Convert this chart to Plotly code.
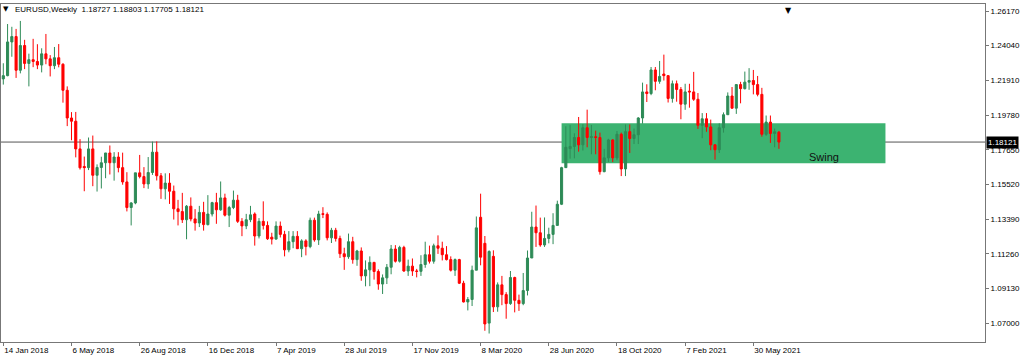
import plotly.graph_objects as go
import pandas as pd

# ---- data (weekly EURUSD candles) ----
first_week = "2018-01-14"
opens = [
    1.2200, 1.2220, 1.2427, 1.2460, 1.2253, 1.2405, 1.2295, 1.2318, 1.2307, 1.2285,
    1.2354, 1.2323, 1.2281, 1.2330, 1.2290, 1.2130, 1.1960, 1.1940, 1.1770, 1.1662,
    1.1655, 1.1770, 1.1608, 1.1656, 1.1685, 1.1745, 1.1685, 1.1720, 1.1655, 1.1567,
    1.1410, 1.1438, 1.1623, 1.1600, 1.1555, 1.1625, 1.1750, 1.1605, 1.1525, 1.1560,
    1.1510, 1.1402, 1.1385, 1.1335, 1.1418, 1.1340, 1.1315, 1.1380, 1.1305, 1.1370,
    1.1440, 1.1396, 1.1469, 1.1363, 1.1410, 1.1455, 1.1325, 1.1297, 1.1335, 1.1370,
    1.1235, 1.1325, 1.1300, 1.1228, 1.1216, 1.1296, 1.1245, 1.1150, 1.1200, 1.1233,
    1.1157, 1.1205, 1.1170, 1.1332, 1.1211, 1.1372, 1.1368, 1.1224, 1.1270, 1.1220,
    1.1126, 1.1108, 1.1200, 1.1090, 1.1143, 1.0990, 1.1027, 1.1073, 1.1017, 1.0940,
    1.0978, 1.1043, 1.1155, 1.1080, 1.1165, 1.1020, 1.1050, 1.1020, 1.1018, 1.1060,
    1.1120, 1.1080, 1.1175, 1.1160, 1.1120, 1.1090, 1.1025, 1.1090, 1.0945, 1.0830,
    1.0845, 1.1025, 1.1350, 1.1190, 1.0700, 1.1110, 1.0800, 1.0935, 1.0875, 1.0820,
    1.0980, 1.0840, 1.0820, 1.0900, 1.1100, 1.1290, 1.1255, 1.1180, 1.1220, 1.1245,
    1.1300, 1.1430, 1.1655, 1.1772, 1.1785, 1.1840, 1.1795, 1.1900, 1.1840, 1.1845,
    1.1840, 1.1630, 1.1715, 1.1825, 1.1715, 1.1860, 1.1647, 1.1876, 1.1834, 1.1857,
    1.1960, 1.2120, 1.2110, 1.2255, 1.2185, 1.2230, 1.2220, 1.2080, 1.2170, 1.2135,
    1.2045, 1.2125, 1.2120, 1.2075, 1.1915, 1.1955, 1.1905, 1.1795, 1.1765, 1.1900,
    1.1980, 1.2095, 1.2020, 1.2165, 1.2140, 1.2180, 1.2190, 1.2165, 1.2105, 1.1860,
    1.1935, 1.1865, 1.18727,
]
highs = [
    1.2296, 1.2537, 1.2520, 1.2507, 1.2556, 1.2440, 1.2355, 1.2446, 1.2413, 1.2388,
    1.2476, 1.2346, 1.2396, 1.2414, 1.2296, 1.2154, 1.1996, 1.1997, 1.1830, 1.1723,
    1.1840, 1.1852, 1.1675, 1.1722, 1.1720, 1.1791, 1.1750, 1.1750, 1.1747, 1.1627,
    1.1443, 1.1623, 1.1733, 1.1658, 1.1720, 1.1815, 1.1816, 1.1622, 1.1620, 1.1621,
    1.1545, 1.1457, 1.1500, 1.1425, 1.1472, 1.1400, 1.1420, 1.1445, 1.1486, 1.1445,
    1.1500, 1.1570, 1.1495, 1.1420, 1.1514, 1.1488, 1.1345, 1.1371, 1.1420, 1.1380,
    1.1345, 1.1448, 1.1325, 1.1255, 1.1325, 1.1324, 1.1267, 1.1265, 1.1265, 1.1265,
    1.1215, 1.1215, 1.1348, 1.1348, 1.1390, 1.1412, 1.1380, 1.1285, 1.1285, 1.1237,
    1.1163, 1.1250, 1.1230, 1.1150, 1.1165, 1.1085, 1.1110, 1.1076, 1.1030, 1.0999,
    1.1063, 1.1180, 1.1179, 1.1175, 1.1175, 1.1090, 1.1097, 1.1033, 1.1117, 1.1200,
    1.1176, 1.1188, 1.1239, 1.1200, 1.1173, 1.1110, 1.1097, 1.1095, 1.0960, 1.0860,
    1.1053, 1.1355, 1.1495, 1.1235, 1.1147, 1.1147, 1.0950, 1.0990, 1.0890, 1.1020,
    1.0985, 1.0875, 1.1008, 1.1146, 1.1384, 1.1422, 1.1348, 1.1349, 1.1286, 1.1375,
    1.1452, 1.1660, 1.1909, 1.1916, 1.1866, 1.1966, 1.1922, 1.2011, 1.1917, 1.1882,
    1.1870, 1.1770, 1.1832, 1.1830, 1.1880, 1.1870, 1.1920, 1.1920, 1.1895, 1.1965,
    1.2177, 1.2167, 1.2273, 1.2273, 1.2310, 1.2349, 1.2222, 1.2190, 1.2190, 1.2150,
    1.2170, 1.2170, 1.2243, 1.2113, 1.1990, 1.1990, 1.1950, 1.1800, 1.1927, 1.1994,
    1.2117, 1.2150, 1.2167, 1.2182, 1.2245, 1.2266, 1.2255, 1.2218, 1.2145, 1.1975,
    1.1975, 1.1895, 1.18803,
]
lows = [
    1.2165, 1.2216, 1.2336, 1.2206, 1.2234, 1.2260, 1.2154, 1.2272, 1.2260, 1.2240,
    1.2290, 1.2215, 1.2260, 1.2271, 1.2054, 1.1910, 1.1823, 1.1718, 1.1643, 1.1510,
    1.1640, 1.1541, 1.1508, 1.1527, 1.1590, 1.1613, 1.1575, 1.1626, 1.1550, 1.1386,
    1.1300, 1.1430, 1.1589, 1.1529, 1.1525, 1.1610, 1.1576, 1.1463, 1.1460, 1.1432,
    1.1336, 1.1300, 1.1315, 1.1215, 1.1325, 1.1268, 1.1290, 1.1268, 1.1300, 1.1355,
    1.1310, 1.1390, 1.1355, 1.1290, 1.1400, 1.1315, 1.1234, 1.1277, 1.1320, 1.1176,
    1.1220, 1.1275, 1.1211, 1.1183, 1.1213, 1.1226, 1.1110, 1.1135, 1.1160, 1.1155,
    1.1105, 1.1116, 1.1160, 1.1200, 1.1180, 1.1345, 1.1208, 1.1192, 1.1201, 1.1100,
    1.1027, 1.1095, 1.1065, 1.1052, 1.0960, 1.0926, 1.0927, 1.0967, 1.0905, 1.0879,
    1.0940, 1.1000, 1.1072, 1.1072, 1.1015, 1.0990, 1.0990, 1.0981, 1.0990, 1.1040,
    1.1066, 1.1065, 1.1125, 1.1085, 1.1085, 1.1017, 1.0990, 1.0940, 1.0827, 1.0778,
    1.0805, 1.1025, 1.1055, 1.0653, 1.0636, 1.0768, 1.0770, 1.0810, 1.0727, 1.0812,
    1.0766, 1.0775, 1.0810, 1.0870, 1.1100, 1.1168, 1.1169, 1.1168, 1.1190, 1.1185,
    1.1300, 1.1425, 1.1655, 1.1710, 1.1712, 1.1753, 1.1760, 1.1780, 1.1737, 1.1737,
    1.1612, 1.1627, 1.1690, 1.1689, 1.1700, 1.1603, 1.1603, 1.1745, 1.1800, 1.1800,
    1.1925, 1.2058, 1.2100, 1.2130, 1.2170, 1.2190, 1.2055, 1.2054, 1.2060, 1.1952,
    1.2010, 1.2023, 1.2065, 1.1893, 1.1836, 1.1875, 1.1762, 1.1704, 1.1745, 1.1870,
    1.1980, 1.2018, 1.1985, 1.2050, 1.2135, 1.2133, 1.2105, 1.2093, 1.1845, 1.1850,
    1.1807, 1.1780, 1.17705,
]
closes = [
    1.2220, 1.2427, 1.2460, 1.2253, 1.2405, 1.2295, 1.2318, 1.2307, 1.2285, 1.2354,
    1.2323, 1.2281, 1.2330, 1.2290, 1.2130, 1.1960, 1.1940, 1.1770, 1.1654, 1.1655,
    1.1770, 1.1608, 1.1656, 1.1685, 1.1745, 1.1685, 1.1720, 1.1655, 1.1567, 1.1410,
    1.1438, 1.1623, 1.1600, 1.1555, 1.1625, 1.1750, 1.1605, 1.1525, 1.1560, 1.1510,
    1.1402, 1.1385, 1.1335, 1.1418, 1.1340, 1.1315, 1.1380, 1.1305, 1.1370, 1.1440,
    1.1396, 1.1469, 1.1363, 1.1410, 1.1455, 1.1325, 1.1297, 1.1335, 1.1365, 1.1235,
    1.1325, 1.1300, 1.1218, 1.1216, 1.1296, 1.1245, 1.1150, 1.1200, 1.1233, 1.1157,
    1.1205, 1.1170, 1.1332, 1.1211, 1.1370, 1.1368, 1.1224, 1.1270, 1.1220, 1.1126,
    1.1108, 1.1200, 1.1090, 1.1143, 1.0990, 1.1027, 1.1073, 1.1017, 1.0940, 1.0978,
    1.1043, 1.1155, 1.1080, 1.1165, 1.1020, 1.1050, 1.1020, 1.1018, 1.1060, 1.1120,
    1.1080, 1.1175, 1.1160, 1.1120, 1.1090, 1.1025, 1.1090, 1.0945, 1.0830, 1.0845,
    1.1025, 1.1285, 1.1105, 1.0695, 1.1140, 1.0800, 1.0935, 1.0875, 1.0820, 1.0980,
    1.0840, 1.0820, 1.0900, 1.1100, 1.1290, 1.1255, 1.1180, 1.1220, 1.1245, 1.1300,
    1.1430, 1.1655, 1.1780, 1.1785, 1.1840, 1.1795, 1.1900, 1.1840, 1.1845, 1.1840,
    1.1630, 1.1715, 1.1825, 1.1715, 1.1860, 1.1647, 1.1876, 1.1834, 1.1857, 1.1960,
    1.2120, 1.2110, 1.2255, 1.2185, 1.2215, 1.2220, 1.2080, 1.2170, 1.2135, 1.2045,
    1.2120, 1.2120, 1.2075, 1.1915, 1.1955, 1.1905, 1.1795, 1.1765, 1.1900, 1.1980,
    1.2095, 1.2020, 1.2165, 1.2140, 1.2180, 1.2190, 1.2165, 1.2105, 1.1860, 1.1935,
    1.1865, 1.1875, 1.18121,
]
weeks = pd.date_range(first_week, periods=len(closes), freq="7D")

tick_dates = ["2018-01-14", "2018-05-06", "2018-08-26", "2018-12-16", "2019-04-07",
              "2019-07-28", "2019-11-17", "2020-03-08", "2020-06-28", "2020-10-18",
              "2021-02-07", "2021-05-30"]
tick_labels = ["14 Jan 2018", "6 May 2018", "26 Aug 2018", "16 Dec 2018", "7 Apr 2019",
               "28 Jul 2019", "17 Nov 2019", "8 Mar 2020", "28 Jun 2020", "18 Oct 2020",
               "7 Feb 2021", "30 May 2021"]
price_ticks = [1.26170, 1.24040, 1.21910, 1.19780, 1.17650, 1.15520, 1.13390,
               1.11260, 1.09130, 1.07000]
last_price = 1.18121
title_text = "EURUSD,Weekly  1.18727 1.18803 1.17705 1.18121"
zone_start, zone_end = "2020-07-19", "2022-01-02"
zone_low, zone_high = 1.1682, 1.1927
zone_label = "Swing"

FONT = "Liberation Sans"
GREEN = "#2E8B57"
RED = "#FF0000"

fig = go.Figure()
fig.add_trace(go.Candlestick(
    x=weeks, open=opens, high=highs, low=lows, close=closes,
    increasing=dict(line=dict(color=GREEN, width=1), fillcolor=GREEN),
    decreasing=dict(line=dict(color=RED, width=1), fillcolor=RED),
    whiskerwidth=0, showlegend=False, hoverinfo="skip",
))

# swing zone rectangle (behind candles)
fig.add_shape(type="rect", xref="x", yref="y", x0=zone_start, x1=zone_end,
              y0=zone_low, y1=zone_high, fillcolor="#3CB371",
              line=dict(width=0), layer="below")
# current price line
fig.add_shape(type="line", xref="paper", yref="y", x0=0, x1=1,
              y0=last_price, y1=last_price, line=dict(color="#555555", width=1),
              layer="below")

fig.add_annotation(x="2021-08-26", y=1.1722, xref="x", yref="y", text=zone_label,
                   showarrow=False, xanchor="left", yanchor="middle",
                   font=dict(family=FONT, size=11, color="#111111"))
# title
fig.add_annotation(x=0.0005, y=0.985, xref="paper", yref="paper", text="▼",
                   showarrow=False, xanchor="left", yanchor="middle",
                   font=dict(family="DejaVu Sans", size=7, color="#000000"))
fig.add_annotation(x=0.0125, y=0.985, xref="paper", yref="paper", text=title_text,
                   showarrow=False, xanchor="left", yanchor="middle",
                   font=dict(family=FONT, size=8, color="#000000"))
# chart shift marker
fig.add_annotation(x=0.800, y=1.0, xref="paper", yref="paper", text="▼",
                   showarrow=False, xanchor="center", yanchor="top",
                   font=dict(family="DejaVu Sans", size=8, color="#000000"))
# last price tag
fig.add_annotation(x=1.0, y=last_price, xref="paper", yref="y",
                   text=f"{last_price:.5f}", showarrow=False, xanchor="left",
                   yanchor="middle", xshift=1, bgcolor="#000000", borderpad=1,
                   font=dict(family=FONT, size=8, color="#FFFFFF"))

fig.update_layout(
    width=1024, height=358,
    margin=dict(l=1, r=39, t=4, b=16),
    paper_bgcolor="#FFFFFF", plot_bgcolor="#FFFFFF",
    showlegend=False,
    font=dict(family=FONT, size=8, color="#000000"),
)
fig.update_xaxes(
    type="date", range=["2018-01-10 05:00", "2022-06-14 12:00"],
    rangeslider=dict(visible=False),
    tickvals=tick_dates, ticktext=tick_labels,
    ticks="outside", ticklen=3, tickcolor="#777777",
    ticklabelposition="outside right",
    showgrid=False, zeroline=False,
    showline=True, mirror=True, linecolor="#777777", linewidth=1,
    tickfont=dict(family=FONT, size=8, color="#000000"),
)
fig.update_yaxes(
    range=[1.0584, 1.2660], side="right",
    tickvals=price_ticks, ticktext=[f"{v:.5f}" for v in price_ticks],
    ticks="outside", ticklen=3, tickcolor="#777777",
    showgrid=False, zeroline=False,
    showline=True, mirror=True, linecolor="#777777", linewidth=1,
    tickfont=dict(family=FONT, size=8, color="#000000"),
)

fig.write_html("out.html", config={"displayModeBar": False},
               post_script="document.body.style.margin='0';document.body.style.overflow='hidden';")
